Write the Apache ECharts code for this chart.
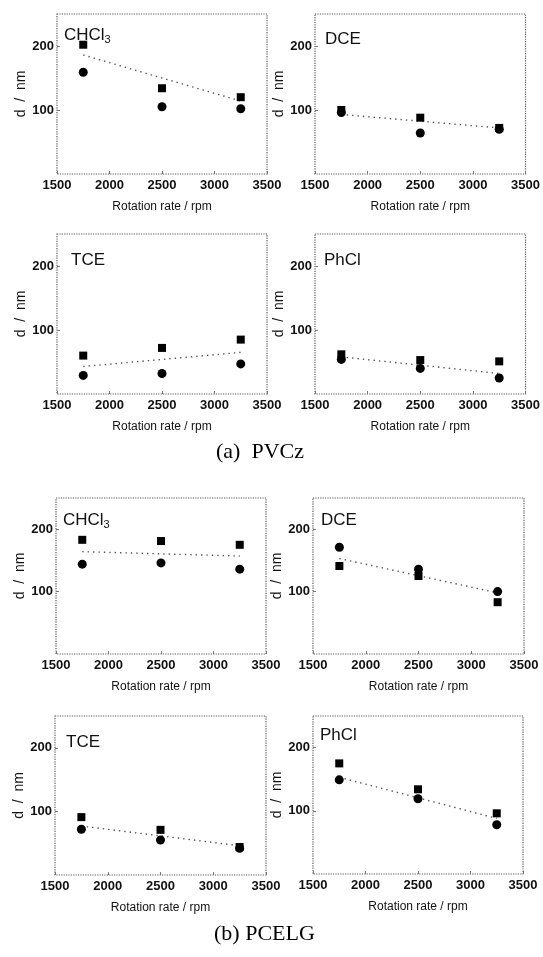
<!DOCTYPE html>
<html><head><meta charset="utf-8">
<script src="https://cdn.jsdelivr.net/npm/echarts@6/dist/echarts.min.js"></script>
<style>html,body{margin:0;padding:0;background:#fff}#c{width:543px;height:957px}</style>
</head><body><div id="c"></div>
<script>
// ---- data ----
const rates = [1750, 2500, 3250];
const trendRates = [1750, 3250];
const xTicks = [1500, 2000, 2500, 3000, 3500];
const yTicks = [100, 200];

const aCHCl3Sq = [202, 134, 120];
const aCHCl3Ci = [159, 105, 102];
const aCHCl3Trend = [186, 114];
const aDCESq = [100, 88, 72];
const aDCECi = [96, 64, 70];
const aDCETrend = [93, 72];
const aTCESq = [60, 72, 85];
const aTCECi = [29, 32, 47];
const aTCETrend = [43, 65];
const aPhClSq = [62, 53, 51];
const aPhClCi = [54, 40, 25];
const aPhClTrend = [58, 32];

const bCHCl3Sq = [183, 181, 175];
const bCHCl3Ci = [144, 146, 136];
const bCHCl3Trend = [164, 157];
const bDCESq = [141, 125, 83];
const bDCECi = [171, 136, 100];
const bDCETrend = [153, 98];
const bTCESq = [91, 71, 44];
const bTCECi = [72, 55, 42];
const bTCETrend = [77, 46];
const bPhClSq = [175, 134, 96];
const bPhClCi = [149, 119, 78];
const bPhClTrend = [153, 88];

const panelNames = ['CHCl3', 'DCE', 'TCE', 'PhCl', 'CHCl3', 'DCE', 'TCE', 'PhCl'];
const captions = ['(a)  PVCz', '(b) PCELG'];
const xName = 'Rotation rate / rpm';
const yName = 'd  /  nm';

// ---- layout ----
const panels = [
  {sq: aCHCl3Sq, ci: aCHCl3Ci, tr: aCHCl3Trend, left: 57, top: 14, w: 210, h: 160, tx: 7, ty: 11},
  {sq: aDCESq, ci: aDCECi, tr: aDCETrend, left: 315, top: 14, w: 211, h: 160, tx: 10, ty: 15},
  {sq: aTCESq, ci: aTCECi, tr: aTCETrend, left: 57, top: 234, w: 210, h: 160, tx: 14, ty: 16},
  {sq: aPhClSq, ci: aPhClCi, tr: aPhClTrend, left: 315, top: 234, w: 211, h: 160, tx: 9, ty: 16},
  {sq: bCHCl3Sq, ci: bCHCl3Ci, tr: bCHCl3Trend, left: 56, top: 498, w: 210, h: 156, tx: 7, ty: 12},
  {sq: bDCESq, ci: bDCECi, tr: bDCETrend, left: 313, top: 498, w: 211, h: 156, tx: 8, ty: 12},
  {sq: bTCESq, ci: bTCECi, tr: bTCETrend, left: 55, top: 716, w: 211, h: 159, tx: 11, ty: 16},
  {sq: bPhClSq, ci: bPhClCi, tr: bPhClTrend, left: 313, top: 716, w: 210, h: 158, tx: 7, ty: 9}
];

const FONT = "'Liberation Sans', Arial, sans-serif";
const INK = '#000';
const grids = [], xAxes = [], yAxes = [], series = [], titles = [];

panels.forEach((p, i) => {
  grids.push({
    left: p.left, top: p.top, width: p.w, height: p.h, show: true,
    borderColor: '#5a5a5a', borderWidth: 1.2, borderType: 'dotted',
    backgroundColor: 'transparent', containLabel: false
  });
  xAxes.push({
    gridIndex: i, type: 'value', min: xTicks[0], max: xTicks[xTicks.length - 1], interval: 500,
    name: xName, nameLocation: 'middle', nameGap: 27,
    nameTextStyle: {fontFamily: FONT, fontSize: 12, color: '#111'},
    axisLine: {show: false},
    axisTick: {show: true, inside: true, length: 3, lineStyle: {color: '#777'}},
    splitLine: {show: false},
    axisLabel: {fontFamily: FONT, fontSize: 13, fontWeight: 'bold', color: '#111', margin: 5,
      formatter: v => String(v)}
  });
  yAxes.push({
    gridIndex: i, type: 'value', min: 0, max: 250, interval: 100,
    name: yName, nameLocation: 'middle', nameGap: 26,
    nameTextStyle: {fontFamily: FONT, fontSize: 14, color: '#111'},
    axisLine: {show: false},
    axisTick: {show: true, inside: true, length: 3, lineStyle: {color: '#777'}},
    splitLine: {show: false},
    axisLabel: {
      fontFamily: FONT, fontSize: 13, fontWeight: 'bold', color: '#111', margin: 3,
      showMinLabel: false, showMaxLabel: false,
      formatter: v => (yTicks.indexOf(v) >= 0 ? String(v) : '')
    }
  });
  series.push({
    type: 'line', xAxisIndex: i, yAxisIndex: i, symbol: 'none', silent: true,
    data: trendRates.map((r, k) => [r, p.tr[k]]),
    lineStyle: {color: '#555', width: 1.4, type: [1.4, 4]}, z: 1
  });
  series.push({
    type: 'scatter', xAxisIndex: i, yAxisIndex: i, symbol: 'rect', symbolSize: 8,
    data: rates.map((r, k) => [r, p.sq[k]]), itemStyle: {color: INK, opacity: 1}, z: 3
  });
  series.push({
    type: 'scatter', xAxisIndex: i, yAxisIndex: i, symbol: 'circle', symbolSize: 9,
    data: rates.map((r, k) => [r, p.ci[k]]), itemStyle: {color: INK, opacity: 1}, z: 3
  });
  const name = panelNames[i];
  const isSub = name === 'CHCl3';
  titles.push({
    left: p.left + p.tx, top: p.top + p.ty, padding: 0,
    text: isSub ? '{m|CHCl}{s|3}' : '{m|' + name + '}',
    textStyle: {
      fontWeight: 'normal',
      rich: {
        m: {fontFamily: FONT, fontSize: 17, fontWeight: 'normal', color: '#111', lineHeight: 20},
        s: {fontFamily: FONT, fontSize: 11, fontWeight: 'normal', color: '#111', lineHeight: 20, padding: [9, 0, 0, 0]}
      }
    }
  });
});

titles.push({
  text: captions[0], left: 216, top: 441, padding: 0,
  textStyle: {fontFamily: "'Liberation Serif', 'Times New Roman', serif", fontSize: 22, fontWeight: 'normal', color: '#000'}
});
titles.push({
  text: captions[1], left: 214, top: 923, padding: 0,
  textStyle: {fontFamily: "'Liberation Serif', 'Times New Roman', serif", fontSize: 22, fontWeight: 'normal', color: '#000'}
});

const chart = echarts.init(document.getElementById('c'), null, {renderer: 'canvas'});
chart.setOption({
  animation: false, backgroundColor: '#fff',
  title: titles, grid: grids, xAxis: xAxes, yAxis: yAxes, series: series
});
</script></body></html>
